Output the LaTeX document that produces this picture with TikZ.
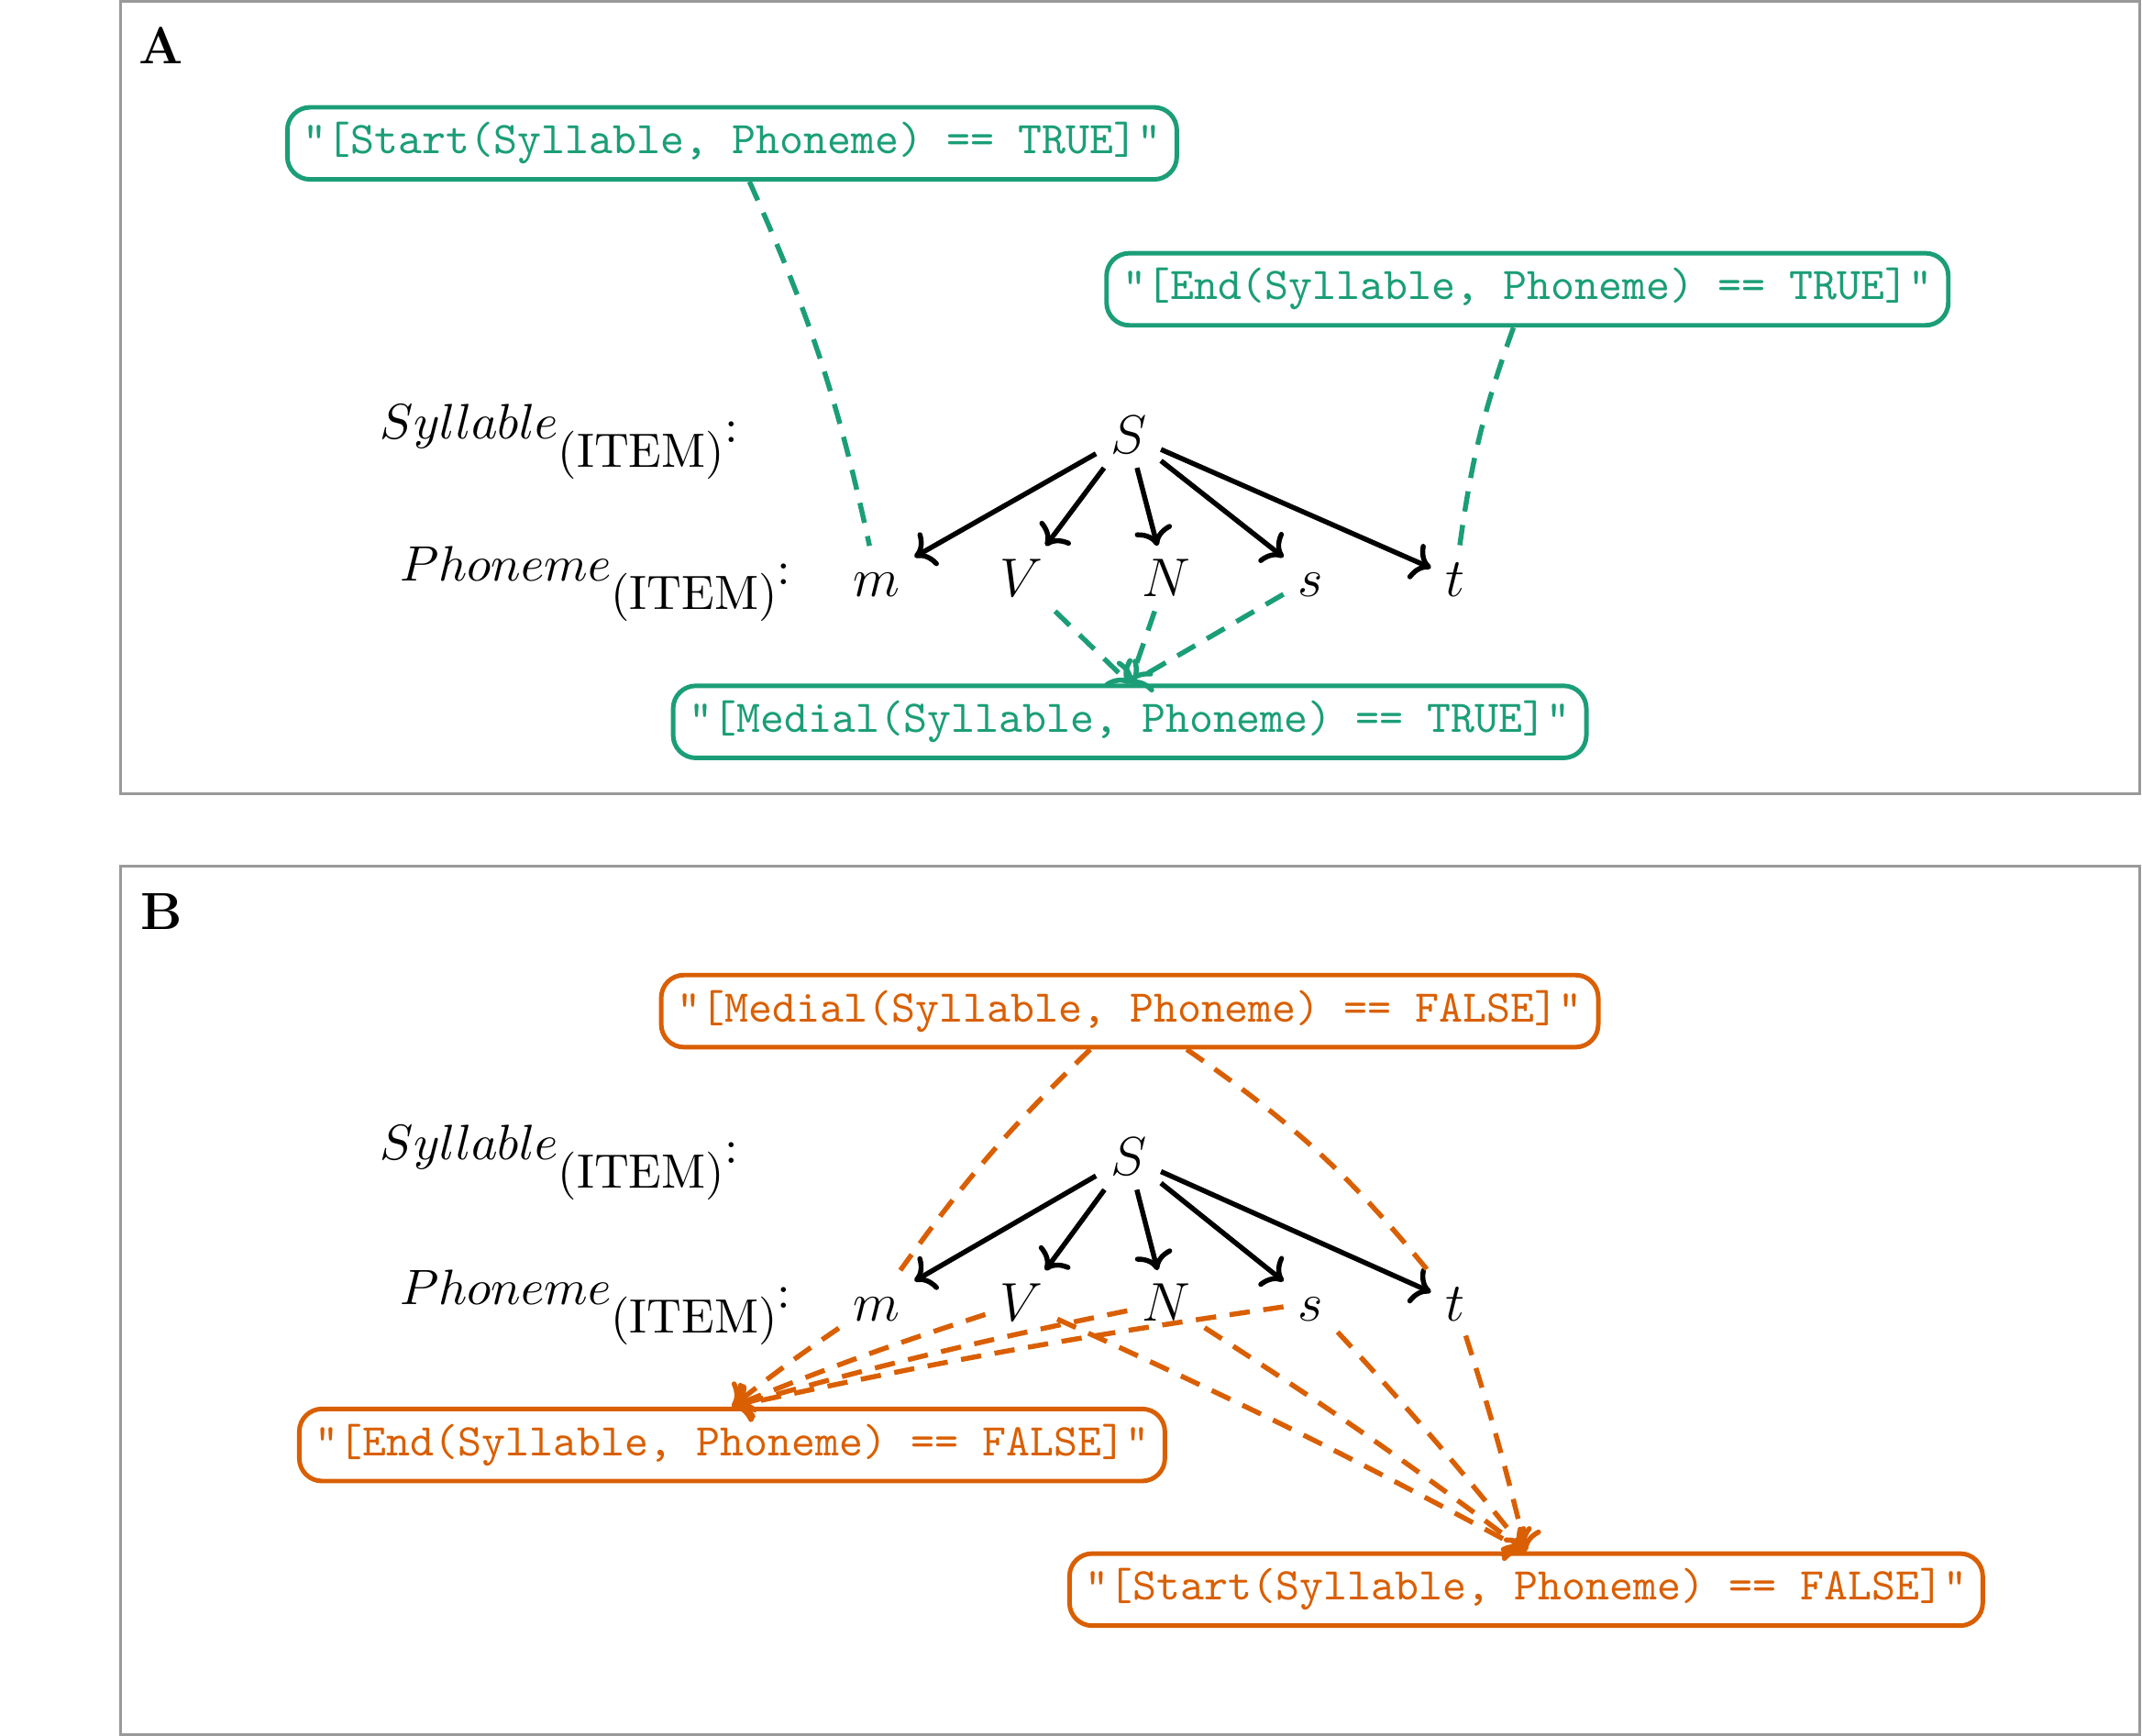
\documentclass[tikz,border=0pt]{standalone}
\usepackage{tikz}
\usetikzlibrary{positioning,arrows.meta,calc}
\definecolor{verde}{HTML}{1B9E77}
\definecolor{naranja}{HTML}{D95F02}
\definecolor{marco}{HTML}{999999}

\begin{document}
\begin{tikzpicture}[
      panel/.style={draw=marco,line width=0.6pt},
      tag/.style={font=\fontsize{11.5}{13}\selectfont\bfseries,inner sep=0pt},
      cond/.style={rounded corners=5pt,line width=1pt,minimum height=0.54cm,
                   inner xsep=3.5pt,font=\ttfamily},
      yes/.style={cond,draw=verde,text=verde},
      no/.style={cond,draw=naranja,text=naranja},
      lvl/.style={font=\fontsize{10.6}{13}\selectfont,inner sep=0pt,anchor=base west},
      ph/.style={font=\fontsize{11.5}{13}\selectfont,text height=8pt,text depth=0pt,inner sep=3pt},
      tr/.style={->,line width=1.1pt,black},
      lk/.style={line width=1.1pt,dash pattern=on 4.5pt off 3pt},
      node distance=1.12cm,on grid]
    \useasboundingbox (0,0) rectangle (16.59,-13.44);
    % panel A
    \draw[panel] (0.931,-0.012) rectangle (16.57,-6.148);
    \node[tag] (labA) at (1.25,-0.35) {A};
    \node[yes] (startA) at (5.67,-1.11) {"[Start(Syllable, Phoneme) == TRUE]"};
    \node[yes] (endA) at (11.83,-2.24) {"[End(Syllable, Phoneme) == TRUE]"};
    \node[lvl] (sylA) at (2.94,-3.40) {$Syllable_{\textrm{(ITEM)}^{\textrm{:}}}$};
    \node[lvl] (phonA) at (3.09,-4.50) {$Phoneme_{\textrm{(ITEM)}^{\textrm{:}}}$};
    \node[ph] (SA) at (8.74,-3.37) {$S$};
    \node[ph] (mA) at (6.79,-4.48) {$m$};
    \node[ph,right=of mA] (VA) {$V$};
    \node[ph,right=of VA] (NA) {$N$};
    \node[ph,right=of NA] (sA) {$s$};
    \node[ph,right=of sA] (tA) {$t$};
    \node[yes] (medA) at (8.75,-5.59) {"[Medial(Syllable, Phoneme) == TRUE]"};
    \foreach \x in {mA,VA,NA,sA,tA}
      \draw[tr] (SA) -- (\x);
    \draw[lk,verde] (startA) to[bend left=6] (mA);
    \draw[lk,verde] (endA) to[bend right=6] (tA);
    \foreach \x in {VA,NA,sA}
      \draw[lk,verde,->] (\x) -- (medA.north);
    % panel B
    \draw[panel] (0.931,-6.709) rectangle (16.57,-13.43);
    \node[tag] (labB) at (1.25,-7.06) {B};
    \node[no] (medB) at (8.75,-7.83) {"[Medial(Syllable, Phoneme) == FALSE]"};
    \node[lvl] (sylB) at (2.94,-8.98) {$Syllable_{\textrm{(ITEM)}^{\textrm{:}}}$};
    \node[lvl] (phonB) at (3.09,-10.10) {$Phoneme_{\textrm{(ITEM)}^{\textrm{:}}}$};
    \node[ph] (SB) at (8.74,-8.96) {$S$};
    \node[ph] (mB) at (6.79,-10.09) {$m$};
    \node[ph,right=of mB] (VB) {$V$};
    \node[ph,right=of VB] (NB) {$N$};
    \node[ph,right=of NB] (sB) {$s$};
    \node[ph,right=of sB] (tB) {$t$};
    \node[no] (endB) at (5.67,-11.19) {"[End(Syllable, Phoneme) == FALSE]"};
    \node[no] (startB) at (11.82,-12.31) {"[Start(Syllable, Phoneme) == FALSE]"};
    \foreach \x in {mB,VB,NB,sB,tB}
      \draw[tr] (SB) -- (\x);
    \draw[lk,naranja] (medB) to[bend right=5] (mB);
    \draw[lk,naranja] (medB) to[bend left=8] (tB);
    \foreach \x in {mB,VB,NB,sB}
      \draw[lk,naranja,->] (\x) to[bend right=2] (endB.north);
    \foreach \x in {VB,NB,sB,tB}
      \draw[lk,naranja,->] (\x) to[bend left=2] (startB.north);
\end{tikzpicture}
\end{document}
